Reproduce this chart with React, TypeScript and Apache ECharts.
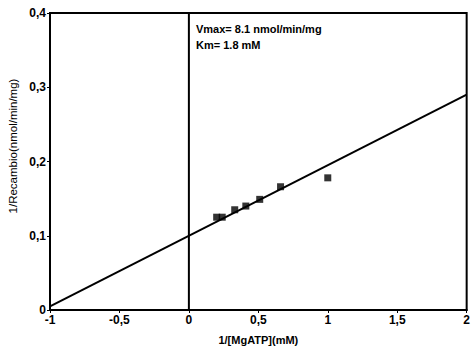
import React, { useEffect, useRef } from "react";
import * as echarts from "echarts";

const pointsX = [0.2, 0.24, 0.33, 0.41, 0.51, 0.66, 1.0];
const pointsY = [0.125, 0.125, 0.135, 0.14, 0.149, 0.166, 0.178];
const fitLineX = [-1, 2];
const fitLineY = [0.005, 0.29];
const xTicks = [-1, -0.5, 0, 0.5, 1, 1.5, 2];
const yTicks = [0, 0.1, 0.2, 0.3, 0.4];
const annotationLines = ["Vmax= 8.1 nmol/min/mg", "Km= 1.8 mM"];
const xAxisTitle = "1/[MgATP](mM)";
const yAxisTitle = "1/Recambio(nmol/min/mg)";

const fmt = (v: number) => String(v).replace(".", ",");

export default function App() {
  const ref = useRef<HTMLDivElement>(null);
  useEffect(() => {
    if (!ref.current) return;
    const chart = echarts.init(ref.current, null, { renderer: "svg" });
    const font = "'Liberation Sans', Arial, sans-serif";
    chart.setOption({
      animation: false,
      backgroundColor: "#ffffff",
      grid: { left: 50, right: 3, top: 13, bottom: 39, show: true, borderColor: "#000", borderWidth: 2, backgroundColor: "transparent" },
      xAxis: {
        type: "value",
        min: xTicks[0],
        max: xTicks[xTicks.length - 1],
        interval: 0.5,
        name: xAxisTitle,
        nameLocation: "middle",
        nameGap: 24,
        nameTextStyle: { fontFamily: font, fontSize: 11, color: "#000", fontWeight: "bold" },
        axisLine: { onZero: false, lineStyle: { color: "#000", width: 2 } },
        axisTick: { show: true, length: 3, lineStyle: { color: "#000" } },
        splitLine: { show: false },
        axisLabel: { formatter: (v: number) => fmt(v), fontFamily: font, fontSize: 12, fontWeight: "bold", color: "#000", margin: 4 },
      },
      yAxis: {
        type: "value",
        min: yTicks[0],
        max: yTicks[yTicks.length - 1],
        interval: 0.1,
        axisLine: { onZero: false, lineStyle: { color: "#000", width: 2 } },
        axisTick: { show: true, length: 3, lineStyle: { color: "#000" } },
        splitLine: { show: false },
        axisLabel: { formatter: (v: number) => fmt(v), fontFamily: font, fontSize: 12, fontWeight: "bold", color: "#000", margin: 4 },
      },
      graphic: [
        {
          type: "text",
          left: 196,
          top: 21,
          style: {
            text: annotationLines.join("\n"),
            font: `bold 11px ${font}`,
            fill: "#000",
            lineHeight: 16,
          },
        },
        {
          type: "text",
          x: 13,
          y: 146,
          rotation: Math.PI / 2,
          style: {
            text: yAxisTitle,
            font: `11.5px ${font}`,
            fill: "#000",
            align: "center",
            verticalAlign: "middle",
          },
        },
      ],
      series: [
        {
          type: "line",
          data: [[0, yTicks[0]], [0, yTicks[yTicks.length - 1]]],
          symbol: "none",
          lineStyle: { color: "#000", width: 2 },
          silent: true,
        },
        {
          type: "line",
          data: fitLineX.map((x, i) => [x, fitLineY[i]]),
          symbol: "none",
          lineStyle: { color: "#000", width: 2 },
          silent: true,
        },
        {
          type: "scatter",
          data: pointsX.map((x, i) => [x, pointsY[i]]),
          symbol: "rect",
          symbolSize: 7,
          itemStyle: { color: "#000" },
        },
      ],
    });
    return () => chart.dispose();
  }, []);
  return <div ref={ref} style={{ width: 473, height: 350, position: "absolute", left: 0, top: 0 }} />;
}
